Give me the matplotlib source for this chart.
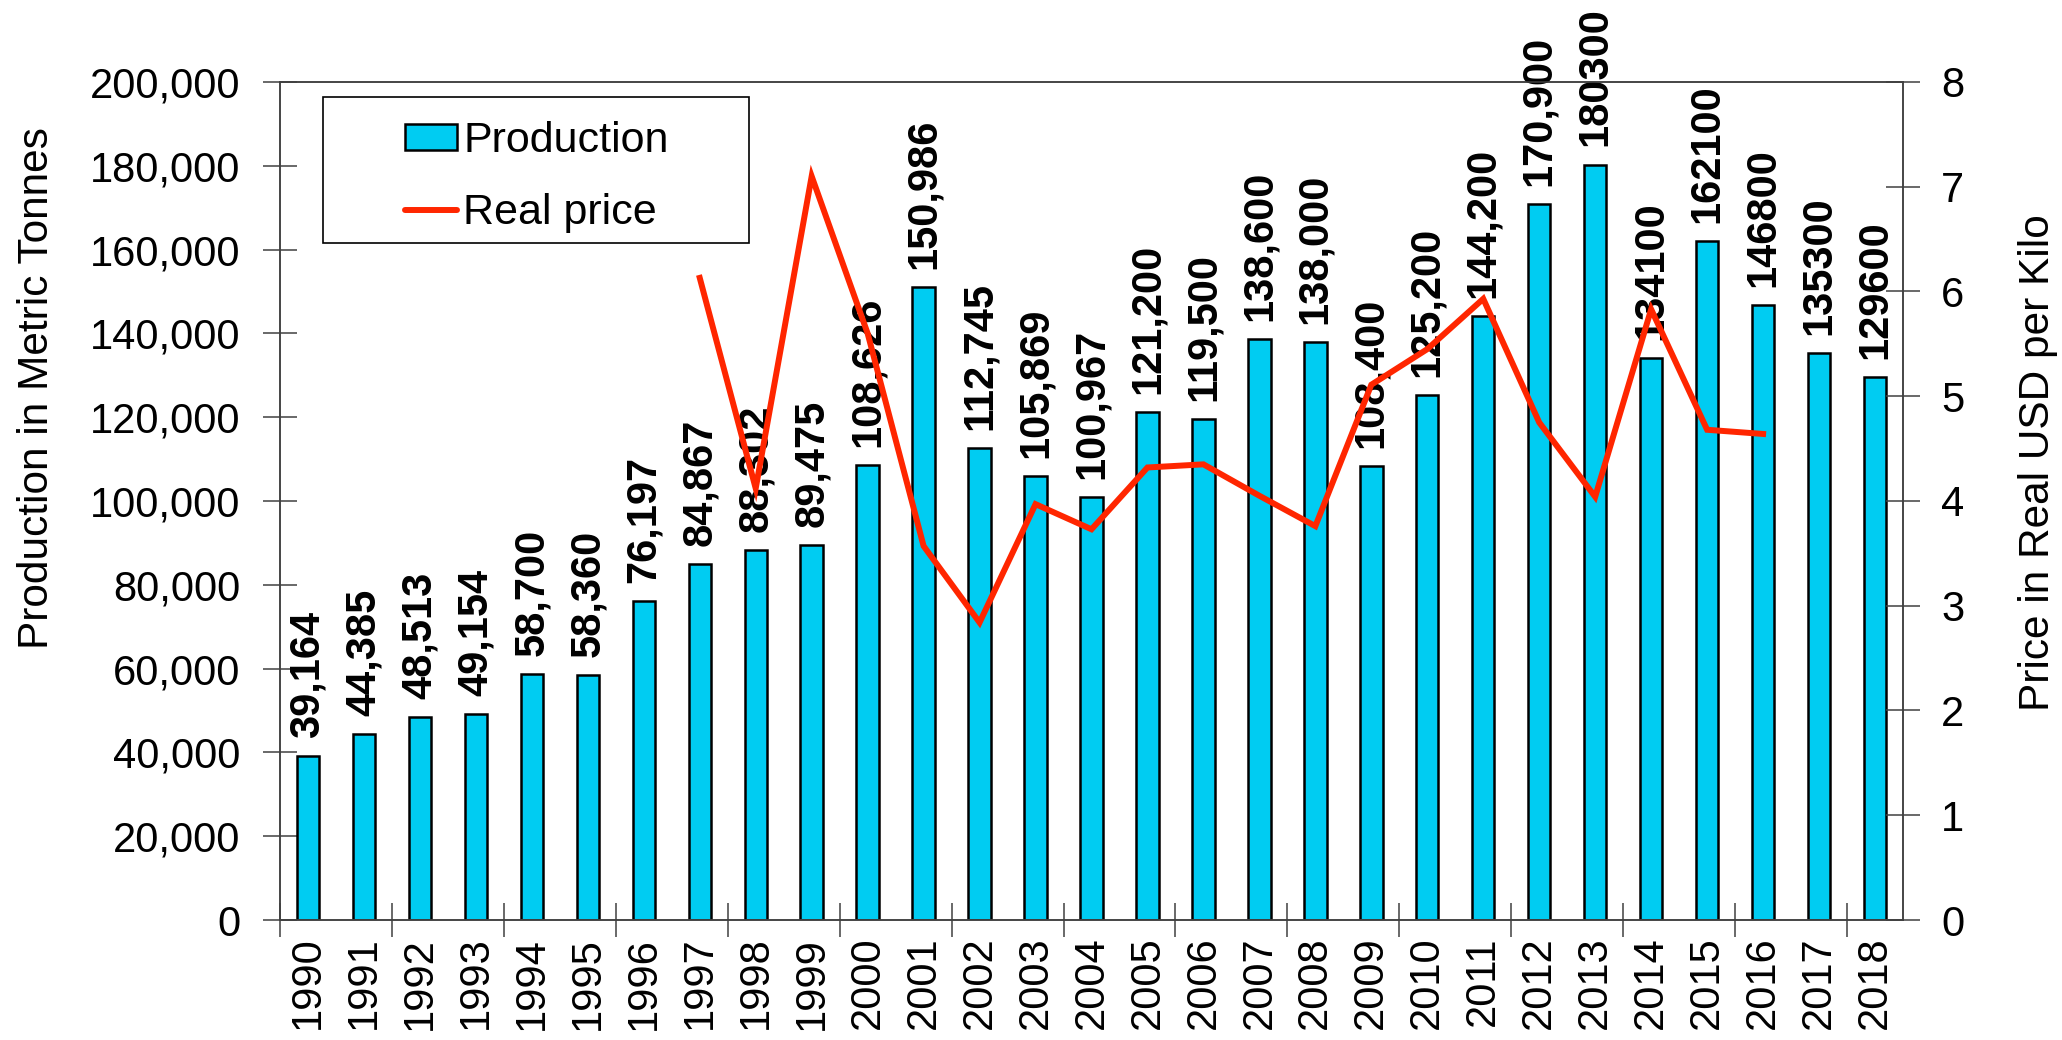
import matplotlib
matplotlib.use("Agg")
import matplotlib.pyplot as plt
from matplotlib.patches import Patch, Rectangle
from matplotlib.lines import Line2D
from matplotlib.ticker import FuncFormatter, FixedLocator

plt.rcParams['font.family'] = ['Liberation Sans', 'DejaVu Sans']

years = [str(y) for y in range(1990, 2019)]
production = [39164, 44385, 48513, 49154, 58700, 58360, 76197, 84867, 88302, 89475,
              108626, 150986, 112745, 105869, 100967, 121200, 119500, 138600, 138000,
              108400, 125200, 144200, 170900, 180300, 134100, 162100, 146800, 135300,
              129600]
bar_labels = ["39,164", "44,385", "48,513", "49,154", "58,700", "58,360", "76,197",
              "84,867", "88,302", "89,475", "108,626", "150,986", "112,745", "105,869",
              "100,967", "121,200", "119,500", "138,600", "138,000", "108,400", "125,200",
              "144,200", "170,900", "180300", "134100", "162100", "146800", "135300",
              "129600"]
price_years = [str(y) for y in range(1997, 2017)]
price = [6.13, 4.12, 7.10, 5.6, 3.57, 2.84, 3.97, 3.73, 4.32, 4.35,
         4.05, 3.76, 5.11, 5.45, 5.93, 4.75, 4.04, 5.83, 4.68, 4.64]

BAR_COLOR = '#00CCF2'
LINE_COLOR = '#FF2600'
AX_COLOR = '#404040'

W, H = 2062, 1040
fig = plt.figure(figsize=(W / 100, H / 100), dpi=100)
left, right, top, bottom = 280, 1903, 82, 920
ax = fig.add_axes([left / W, 1 - bottom / H, (right - left) / W, (bottom - top) / H])

x = list(range(len(years)))
ax.bar(x, production, width=0.4, color=BAR_COLOR, edgecolor='black', linewidth=1.8, zorder=2)
ax.set_xlim(-0.5, len(years) - 0.5)
ax.set_ylim(0, 200000)
ax.yaxis.set_major_locator(FixedLocator(list(range(0, 200001, 20000))))
ax.yaxis.set_major_formatter(FuncFormatter(lambda v, p: f"{int(v):,}"))

ax.set_xticks(x)
ax.set_xticklabels(years, rotation=90, fontsize=30)
ax.set_xticks([i - 0.5 for i in range(0, len(years), 2)], minor=True)
ax.tick_params(axis='x', which='major', length=0, pad=12)
ax.tick_params(axis='x', which='minor', length=25, direction='inout', width=1.1, color=AX_COLOR)
ax.tick_params(axis='y', which='major', length=25, direction='inout', width=1.1,
               color=AX_COLOR, labelsize=30, pad=16)

for s in ax.spines.values():
    s.set_color(AX_COLOR)
    s.set_linewidth(1.1)

for xi, v, lab in zip(x, production, bar_labels):
    ax.annotate(lab, (xi, v), xytext=(0, 13), textcoords='offset points',
                rotation=90, ha='center', va='bottom', fontsize=30,
                fontweight='bold', annotation_clip=False)

ax2 = ax.twinx()
px = [years.index(y) for y in price_years]
ax2.plot(px, price, color=LINE_COLOR, linewidth=4.3, solid_joinstyle='miter', zorder=3)
ax2.set_ylim(0, 8)
ax2.set_yticks(range(0, 9))
ax2.tick_params(axis='y', length=25, direction='inout', width=1.1, color=AX_COLOR,
                labelsize=30, pad=15)
for s in ax2.spines.values():
    s.set_color(AX_COLOR)
    s.set_linewidth(1.1)

fig.text(37 / W, 1 - 388 / H, "Production in Metric Tonnes", rotation=90,
         ha='center', va='center', fontsize=30.5)
fig.text(2038 / W, 1 - 463 / H, "Price in Real USD per Kilo", rotation=90,
         ha='center', va='center', fontsize=30.5)

handles = [Patch(facecolor=BAR_COLOR, edgecolor='black', linewidth=1.8),
           Line2D([0], [0], color=LINE_COLOR, linewidth=4.3, solid_capstyle='round')]
leg = fig.legend(handles, ["Production", "Real price"], loc='upper left',
                 bbox_to_anchor=(405 / W, 1 - 121 / H), frameon=False, fontsize=31,
                 borderpad=0, handlelength=1.2, handleheight=0.55,
                 handletextpad=0.15, labelspacing=0.74, borderaxespad=0)
fig.add_artist(Rectangle((323 / W, 1 - 243 / H), 426 / W, 146 / H, fill=False,
                         edgecolor='black', linewidth=1.2, transform=fig.transFigure))

fig.savefig("out.png", dpi=100)
